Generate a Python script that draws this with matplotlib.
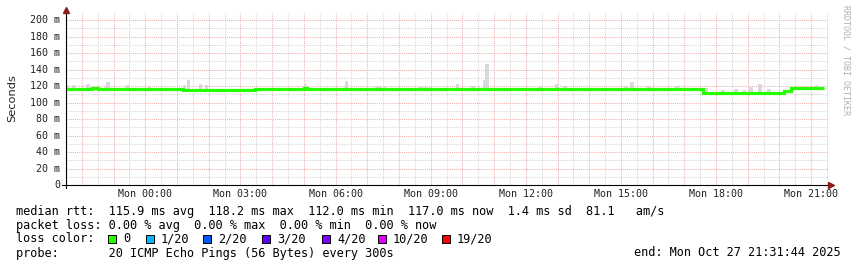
"""SmokePing-style latency graph (median rtt + smoke), rebuilt with matplotlib."""

import matplotlib

matplotlib.use("Agg")
import matplotlib.pyplot as plt  # noqa: E402
import numpy as np  # noqa: E402
from matplotlib.lines import Line2D  # noqa: E402
from matplotlib.patches import Rectangle  # noqa: E402

# --- data (hours relative to Mon 00:00, rtt in ms) ---
t_start, t_end = -2.5, 21.53
median_t = [-2.5, -1.67, -1.5, 1.2, 3.47, 4.83, 4.99, 5.1, 8.56, 9.25, 17.6, 20.15, 20.35, 21.0, 21.15, 21.41]
median_ms = [116.6, 117.6, 116.6, 115.5, 116.5, 115.8, 118.0, 116.0, 116.8, 116.0, 111.8, 114.5, 117.3, 117.9, 117.0, 117.0]

smoke_t = [-2.46, -2.27, -1.80, -1.23, -1.17, -0.54, 0.13, 1.23, 1.36, 1.74, 1.93,
           5.05, 6.35, 7.3, 7.42, 7.55, 8.7, 8.84, 9.0, 9.85, 10.33, 10.71, 10.77,
           12.47, 12.98, 13.23, 15.16, 15.35, 15.88, 16.77, 17.68, 18.22, 18.63,
           18.9, 19.1, 19.39, 19.67, 20.68, 21.16]
smoke_top = [121, 121, 122, 120, 125, 121, 120, 121, 127, 122, 121,
             122, 126, 119.5, 119.5, 119.5, 119, 119, 119, 122, 120, 127, 146.6,
             120, 122, 120, 120, 125, 120, 120, 118, 115, 116,
             115, 119, 123, 116, 119, 121]

y_ticks = [0, 20, 40, 60, 80, 100, 120, 140, 160, 180, 200]
y_labels = ["0", "20 m", "40 m", "60 m", "80 m", "100 m", "120 m", "140 m", "160 m", "180 m", "200 m"]
x_label_hours = [0, 3, 6, 9, 12, 15, 18, 21]
x_labels = ["Mon 00:00", "Mon 03:00", "Mon 06:00", "Mon 09:00",
            "Mon 12:00", "Mon 15:00", "Mon 18:00", "Mon 21:00"]

loss_labels = ["0", "1/20", "2/20", "3/20", "4/20", "10/20", "19/20"]
loss_colors = ["#26ff00", "#00b8ff", "#0059ff", "#5e00ff", "#7e00ff", "#dd00ff", "#ff0000"]

legend_lines = [
    "median rtt:  115.9 ms avg  118.2 ms max  112.0 ms min  117.0 ms now  1.4 ms sd  81.1   am/s",
    "packet loss: 0.00 % avg  0.00 % max  0.00 % min  0.00 % now",
    "loss color:",
    "probe:       20 ICMP Echo Pings (56 Bytes) every 300s",
]
end_text = "end: Mon Oct 27 21:31:44 2025"

W, H = 857, 267
MONO = "DejaVu Sans Mono"
MAJOR = "#f4b0b0"
MINOR = "#d8d8d8"
ARROW = "#8b1a1a"


def px(x, y):
    return x / W, 1 - y / H


fig = plt.figure(figsize=(W / 100, H / 100), dpi=100)
fig.patch.set_facecolor("white")
ax = fig.add_axes([66 / W, (H - 185) / H, 762 / W, 172 / H])
ax.set_xlim(t_start, t_end)
ax.set_ylim(0, 208.5)
for s in ax.spines.values():
    s.set_visible(False)

# grid: red dotted majors, grey dotted minors
for h in np.arange(-2, 22, 1.0):
    ax.axvline(h, color=MAJOR, lw=0.75, ls=(0, (1, 1)), zorder=1)
for h in np.arange(-2.5, 21.6, 1.0):
    ax.axvline(h, color=MINOR, lw=0.75, ls=(0, (1, 1)), zorder=0.5)
for v in range(10, 210, 20):
    ax.axhline(v, color=MINOR, lw=0.75, ls=(0, (1, 1)), zorder=0.5)
for v in y_ticks[1:]:
    ax.axhline(v, color=MAJOR, lw=0.75, ls=(0, (1, 1)), zorder=1)

# smoke: bars from just under the median up to the observed top
med_t = np.array(median_t)
med_v = np.array(median_ms)
idx = np.clip(np.searchsorted(med_t, smoke_t, side="right") - 1, 0, len(med_v) - 1)
base = med_v[idx] - 1
tops = np.array(smoke_top)
ax.bar(smoke_t, tops - base, bottom=base, width=0.11, color="#d9d9d9", zorder=2, linewidth=0)

# median line coloured by loss (0 loss -> green)
ax.step(median_t, median_ms, where="post", color=loss_colors[0], lw=2.3,
        solid_capstyle="butt", solid_joinstyle="miter", zorder=3)

ax.set_xticks([])
ax.set_yticks([])

# tick labels
for v, lab in zip(y_ticks, y_labels):
    ax.text(-0.008, v, lab, transform=ax.get_yaxis_transform(), ha="right", va="center",
            family=MONO, fontsize=7.2, color="#222222")
for h, lab in zip(x_label_hours, x_labels):
    ax.text(h, -0.05, lab, transform=ax.get_xaxis_transform(), ha="center", va="center",
            family=MONO, fontsize=7.2, color="#222222")

# axes lines with arrowheads
fig.add_artist(Line2D([62 / W, 830 / W], [px(0, 185)[1]] * 2, color="black", lw=0.8))
fig.add_artist(Line2D([66 / W] * 2, [px(0, 188)[1], px(0, 12)[1]], color="black", lw=0.8))
fig.add_artist(Line2D([px(831, 185)[0]], [px(831, 185)[1]], marker=">", ms=4.5,
                      color=ARROW, mec=ARROW))
fig.add_artist(Line2D([px(66, 10)[0]], [px(66, 10)[1]], marker="^", ms=4.5,
                      color=ARROW, mec=ARROW))

fig.text(*px(12, 98), "Seconds", rotation=90, ha="center", va="center", fontsize=8.2,
         color="#222222")
fig.text(*px(846, 5), "RRDTOOL / TOBI OETIKER", rotation=270, ha="center", va="top",
         family=MONO, fontsize=6.0, color="#b0b0b0")

# legend block
for i, line in enumerate(legend_lines):
    fig.text(*px(16, 211 + 14 * i), line, ha="left", va="center", family=MONO,
             fontsize=8.55, color="black")
sq_x = [108, 146, 203, 262, 322, 378, 442]
for x, lab, c in zip(sq_x, loss_labels, loss_colors):
    x0, y0 = px(x, 243)
    fig.add_artist(Rectangle((x0, y0), 8 / W, 8 / H, facecolor=c, edgecolor="black",
                             lw=0.7, transform=fig.transFigure))
    fig.text(*px(x + 15, 239), lab, ha="left", va="center", family=MONO, fontsize=8.55)

fig.text(*px(841, 253), end_text, ha="right", va="center", family=MONO, fontsize=8.55)

fig.savefig("out.png", dpi=100, facecolor="white")
